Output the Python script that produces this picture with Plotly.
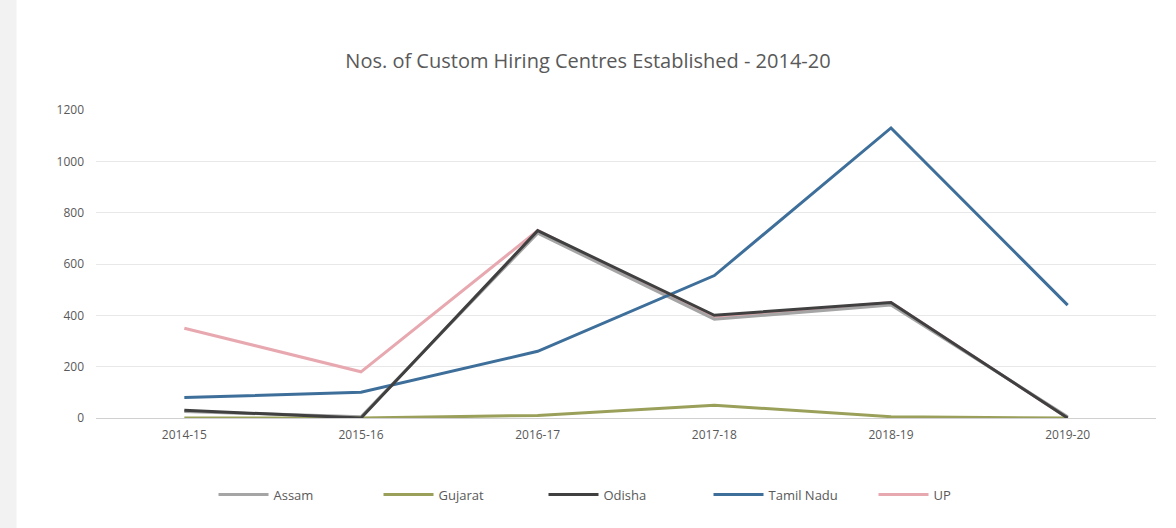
import plotly.graph_objects as go

# Financial years on the category axis
years = ["2014-15", "2015-16", "2016-17", "2017-18", "2018-19", "2019-20"]

# Custom Hiring Centres established per state and year
assam = [25, 5, 720, 385, 440, 5]
gujarat = [0, 0, 10, 50, 5, 0]
odisha = [30, 0, 730, 400, 450, 0]
tamil_nadu = [80, 100, 260, 555, 1130, 440]
up = [350, 180, 730, 390, 450, 0]

y_ticks = [0, 200, 400, 600, 800, 1000, 1200]

series = [
    ("Assam", assam, "#a5a5a5"),
    ("Gujarat", gujarat, "#9aa05a"),
    ("Odisha", odisha, "#404040"),
    ("Tamil Nadu", tamil_nadu, "#3e6f9a"),
    ("UP", up, "#e8a8b0"),
]

fig = go.Figure()
# draw order so the darker lines sit on top
order = [4, 0, 1, 3, 2]
for i in order:
    name, vals, color = series[i]
    fig.add_trace(go.Scatter(
        x=years, y=vals, name=name, mode="lines",
        line=dict(color=color, width=3),
        legendrank=i + 1,
    ))

fig.update_layout(
    width=1176, height=528,
    paper_bgcolor="white", plot_bgcolor="white",
    margin=dict(l=96, r=20, t=110, b=110),
    title=dict(
        text="Nos. of Custom Hiring Centres Established - 2014-20",
        x=0.5, xanchor="center", y=0.885, yanchor="middle",
        font=dict(family="Open Sans, Arial, sans-serif", size=20, color="#595959"),
    ),
    font=dict(family="Open Sans, Arial, sans-serif", size=12, color="#595959"),
    showlegend=True,
    legend=dict(
        orientation="h", x=0.5, xanchor="center", y=-0.2, yanchor="top",
        font=dict(size=13, color="#595959"), traceorder="normal",
        itemwidth=50, entrywidth=100,
    ),
    shapes=[dict(type="rect", xref="paper", yref="paper",
                 x0=-0.0906, x1=-0.075, y0=-0.36, y1=1.36,
                 fillcolor="#f2f2f2", line=dict(width=0), layer="below")],
)

fig.update_xaxes(
    type="category", range=[-0.5, 5.5], showgrid=False, showline=True,
    linecolor="#d0d0d0", linewidth=1, ticks="", ticklabelstandoff=6,
)
fig.update_yaxes(
    range=[0, 1200], tickvals=y_ticks, showgrid=True,
    gridcolor="#e8e8e8", gridwidth=1, zeroline=False, showline=False,
    ticks="", ticklabelstandoff=11,
)

fig.write_html("out.html")
